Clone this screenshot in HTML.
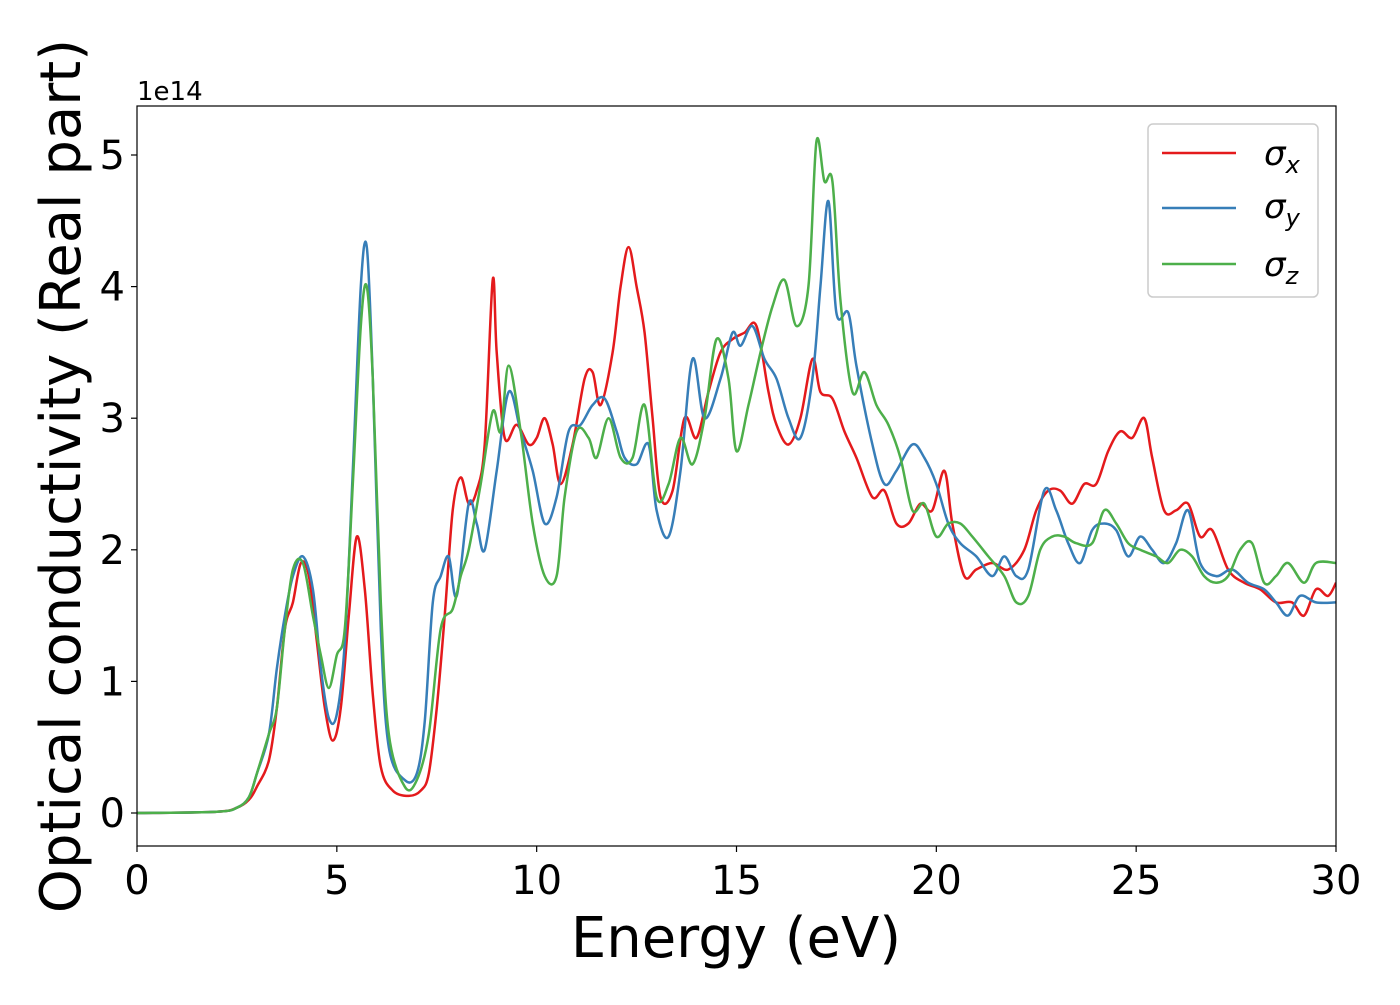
<!DOCTYPE html>
<html><head><meta charset="utf-8">
<style>
html,body{margin:0;padding:0;background:#fff;}
svg text{font-family:"DejaVu Sans","Liberation Sans",sans-serif;fill:#000;}
</style></head>
<body>
<svg id="chart" width="1400" height="1000" viewBox="0 0 1400 1000" xmlns="http://www.w3.org/2000/svg">
<rect x="0" y="0" width="1400" height="1000" fill="#fff"/>
<g id="plot"></g>
<g id="axes"></g>
<text x="137" y="100" font-size="26">1e14</text>
<text x="736" y="957" font-size="56" text-anchor="middle">Energy (eV)</text>
<text transform="translate(80,476) rotate(-90)" font-size="56" text-anchor="middle">Optical conductivity (Real part)</text>
<g>
<rect x="1148" y="124" width="170" height="173" rx="5" fill="#fff" stroke="#ccc" stroke-width="1.5"/>
<line x1="1162" y1="153" x2="1236" y2="153" stroke="#e41a1c" stroke-width="2.5"/>
<text x="1264" y="165" font-size="34" font-style="italic">σ<tspan font-size="24" dy="8">x</tspan></text>
<line x1="1162" y1="208" x2="1236" y2="208" stroke="#377eb8" stroke-width="2.5"/>
<text x="1264" y="218" font-size="34" font-style="italic">σ<tspan font-size="24" dy="8">y</tspan></text>
<line x1="1162" y1="264" x2="1236" y2="264" stroke="#4daf4a" stroke-width="2.5"/>
<text x="1264" y="276" font-size="34" font-style="italic">σ<tspan font-size="24" dy="8">z</tspan></text>
</g>
</svg>
<script>
const xTicks=[0,5,10,15,20,25,30];
const yTicks=[0,1,2,3,4,5];
const sigmaX=[[0,0],[2,0.01],[2.5,0.04],[2.8,0.1],[3.0,0.2],[3.3,0.4],[3.5,0.8],[3.7,1.4],[3.9,1.6],[4.1,1.9],[4.3,1.8],[4.5,1.3],[4.7,0.8],[4.9,0.55],[5.1,0.8],[5.3,1.5],[5.5,2.1],[5.7,1.7],[5.9,0.9],[6.1,0.35],[6.4,0.17],[6.8,0.13],[7.1,0.17],[7.3,0.3],[7.5,0.8],[7.7,1.5],[7.9,2.3],[8.1,2.55],[8.3,2.35],[8.5,2.45],[8.7,2.8],[8.9,4.05],[9.0,3.5],[9.2,2.85],[9.5,2.95],[9.8,2.8],[10.0,2.85],[10.2,3.0],[10.4,2.8],[10.6,2.5],[10.9,2.8],[11.2,3.3],[11.4,3.35],[11.6,3.1],[11.9,3.5],[12.1,4.0],[12.3,4.3],[12.5,4.0],[12.7,3.65],[12.9,3.0],[13.1,2.4],[13.4,2.45],[13.7,3.0],[14.0,2.85],[14.3,3.2],[14.6,3.5],[14.9,3.6],[15.2,3.65],[15.5,3.7],[15.8,3.2],[16.0,2.95],[16.3,2.8],[16.6,3.0],[16.9,3.45],[17.1,3.2],[17.4,3.15],[17.7,2.9],[18.0,2.7],[18.4,2.4],[18.7,2.45],[19.0,2.2],[19.3,2.2],[19.6,2.35],[19.9,2.3],[20.2,2.6],[20.4,2.2],[20.7,1.8],[21.0,1.85],[21.4,1.9],[21.8,1.85],[22.2,2.0],[22.5,2.3],[22.8,2.45],[23.1,2.45],[23.4,2.35],[23.7,2.5],[24.0,2.5],[24.3,2.75],[24.6,2.9],[24.9,2.85],[25.2,3.0],[25.4,2.7],[25.7,2.3],[26.0,2.3],[26.3,2.35],[26.6,2.1],[26.9,2.15],[27.3,1.85],[27.7,1.75],[28.1,1.7],[28.5,1.6],[28.9,1.6],[29.2,1.5],[29.5,1.7],[29.8,1.65],[30,1.75]];
const sigmaY=[[0,0],[2,0.01],[2.5,0.04],[2.8,0.12],[3.0,0.3],[3.3,0.6],[3.5,1.1],[3.7,1.5],[3.9,1.8],[4.15,1.95],[4.4,1.7],[4.6,1.1],[4.8,0.72],[5.0,0.75],[5.2,1.3],[5.4,2.6],[5.6,4.0],[5.75,4.3],[5.9,3.3],[6.1,1.4],[6.3,0.5],[6.7,0.25],[7.0,0.3],[7.2,0.7],[7.4,1.6],[7.6,1.8],[7.8,1.95],[8.0,1.65],[8.3,2.35],[8.5,2.2],[8.7,2.0],[9.0,2.6],[9.3,3.2],[9.6,2.9],[9.9,2.6],[10.2,2.2],[10.5,2.4],[10.8,2.9],[11.1,2.95],[11.4,3.1],[11.7,3.15],[12.0,2.9],[12.2,2.7],[12.5,2.65],[12.8,2.8],[13.0,2.3],[13.3,2.1],[13.6,2.6],[13.9,3.45],[14.2,3.0],[14.6,3.3],[14.9,3.65],[15.1,3.55],[15.4,3.7],[15.7,3.45],[16.0,3.3],[16.3,3.0],[16.6,2.85],[16.9,3.3],[17.1,4.0],[17.3,4.65],[17.5,3.8],[17.8,3.8],[18.0,3.4],[18.4,2.8],[18.7,2.5],[19.0,2.6],[19.4,2.8],[19.7,2.7],[20.0,2.5],[20.3,2.2],[20.6,2.05],[21.0,1.95],[21.4,1.8],[21.7,1.95],[22.0,1.8],[22.3,1.85],[22.7,2.45],[23.0,2.3],[23.3,2.05],[23.6,1.9],[23.9,2.15],[24.2,2.2],[24.5,2.15],[24.8,1.95],[25.1,2.1],[25.4,2.0],[25.7,1.9],[26.0,2.05],[26.3,2.3],[26.6,1.9],[27.0,1.8],[27.4,1.85],[27.8,1.75],[28.2,1.7],[28.5,1.6],[28.8,1.5],[29.1,1.65],[29.5,1.6],[30,1.6]];
const sigmaZ=[[0,0],[2,0.01],[2.5,0.04],[2.8,0.12],[3.0,0.3],[3.3,0.6],[3.5,0.8],[3.7,1.4],[3.9,1.85],[4.15,1.9],[4.4,1.5],[4.6,1.2],[4.8,0.95],[5.0,1.2],[5.2,1.4],[5.4,2.5],[5.6,3.7],[5.75,4.0],[5.9,3.3],[6.1,1.6],[6.3,0.6],[6.7,0.2],[7.0,0.25],[7.3,0.6],[7.6,1.4],[7.9,1.55],[8.1,1.8],[8.3,2.0],[8.6,2.5],[8.9,3.05],[9.1,2.9],[9.3,3.4],[9.6,2.9],[9.9,2.2],[10.2,1.8],[10.5,1.8],[10.7,2.4],[11.0,2.9],[11.3,2.85],[11.5,2.7],[11.8,3.0],[12.1,2.7],[12.4,2.7],[12.7,3.1],[13.0,2.4],[13.3,2.5],[13.6,2.85],[13.9,2.65],[14.2,3.0],[14.5,3.6],[14.8,3.3],[15.0,2.75],[15.3,3.1],[15.6,3.5],[15.9,3.85],[16.2,4.05],[16.5,3.7],[16.8,4.0],[17.0,5.1],[17.2,4.8],[17.4,4.8],[17.6,3.9],[17.9,3.2],[18.2,3.35],[18.5,3.1],[18.8,2.95],[19.1,2.7],[19.4,2.3],[19.7,2.35],[20.0,2.1],[20.3,2.2],[20.6,2.2],[20.9,2.1],[21.3,1.95],[21.7,1.8],[22.0,1.6],[22.3,1.65],[22.6,2.0],[22.9,2.1],[23.2,2.1],[23.5,2.05],[23.9,2.05],[24.2,2.3],[24.5,2.2],[24.8,2.05],[25.1,2.0],[25.5,1.95],[25.8,1.9],[26.1,2.0],[26.4,1.95],[26.7,1.8],[27.0,1.75],[27.3,1.8],[27.6,2.0],[27.9,2.05],[28.2,1.75],[28.5,1.8],[28.8,1.9],[29.2,1.75],[29.5,1.9],[30,1.9]];

const L=137,R=1336,T=106,B=846;
const xs=v=>L+(v-0)/30*(R-L);
const ys=v=>813-v*131.6;
const NS="http://www.w3.org/2000/svg";
const plot=document.getElementById('plot'),axes=document.getElementById('axes');
function mk(tag,attrs,parent){const e=document.createElementNS(NS,tag);for(const k in attrs)e.setAttribute(k,attrs[k]);parent.appendChild(e);return e;}
function pathFor(data){
  const p=data.map(d=>[xs(d[0]),ys(d[1])]);
  let s='M'+p[0][0].toFixed(1)+','+p[0][1].toFixed(1);
  for(let i=0;i<p.length-1;i++){
    const p0=p[Math.max(0,i-1)],p1=p[i],p2=p[i+1],p3=p[Math.min(p.length-1,i+2)];
    const c1x=p1[0]+(p2[0]-p0[0])/6,c1y=p1[1]+(p2[1]-p0[1])/6;
    const c2x=p2[0]-(p3[0]-p1[0])/6,c2y=p2[1]-(p3[1]-p1[1])/6;
    s+=`C${c1x.toFixed(1)},${c1y.toFixed(1)} ${c2x.toFixed(1)},${c2y.toFixed(1)} ${p2[0].toFixed(1)},${p2[1].toFixed(1)}`;
  }
  return s;
}
const clip=mk('clipPath',{id:'clp'},mk('defs',{},plot));
mk('rect',{x:L,y:T,width:R-L,height:B-T},clip);
const series=[[sigmaX,'#e41a1c','line-sigma-x'],[sigmaY,'#377eb8','line-sigma-y'],[sigmaZ,'#4daf4a','line-sigma-z']];
series.forEach(s=>{
  const e=mk('path',{d:pathFor(s[0]),fill:'none',stroke:s[1],'stroke-width':2.5,'clip-path':'url(#clp)'},plot);
  
  
});
const frame=mk('rect',{x:L,y:T,width:R-L,height:B-T,fill:'none',stroke:'#000','stroke-width':1.2},axes);


xTicks.forEach(t=>{
  const x=xs(t);
  const tk=mk('line',{x1:x,y1:B,x2:x,y2:B+6,stroke:'#000','stroke-width':1.2},axes);
  
  
  const lb=mk('text',{x:x,y:B+48,'font-size':40,'text-anchor':'middle'},axes);
  lb.textContent=t;
  
  
});
yTicks.forEach(t=>{
  const y=ys(t);
  const tk=mk('line',{x1:L-6,y1:y,x2:L,y2:y,stroke:'#000','stroke-width':1.2},axes);
  
  
  const lb=mk('text',{x:L-12,y:y+14,'font-size':40,'text-anchor':'end'},axes);
  lb.textContent=t;
  
  
});
</script>
</body></html>
